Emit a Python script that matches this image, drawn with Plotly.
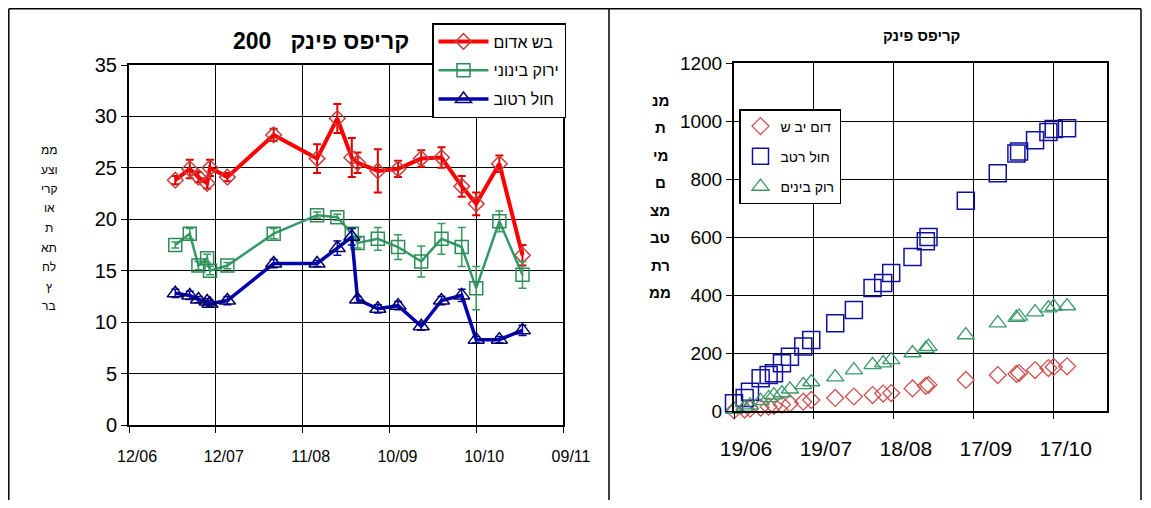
import plotly.graph_objects as go

# ---------------- data: left chart (average pressure-cell readings, bar) ----------------
dates_left = ["2005-06-28", "2005-07-03", "2005-07-06", "2005-07-09", "2005-07-10", "2005-07-16",
              "2005-08-01", "2005-08-16", "2005-08-23", "2005-08-28", "2005-08-30", "2005-09-06",
              "2005-09-13", "2005-09-21", "2005-09-28", "2005-10-05", "2005-10-10", "2005-10-18",
              "2005-10-26"]
red_left = [23.8, 24.9, 24.1, 23.5, 25.0, 24.1, 28.2, 25.9, 29.8, 26.0, 25.5, 24.7, 24.9, 25.9, 26.0, 23.2, 21.5, 25.4, 16.5]
red_err = [0.4, 0.9, 0.5, 0.5, 0.8, 0.4, 0.6, 1.4, 1.4, 1.9, 1.0, 2.1, 0.8, 0.8, 1.0, 1.0, 1.1, 0.8, 1.0]
green_left = [17.5, 18.6, 15.5, 16.2, 15.0, 15.5, 18.6, 20.4, 20.2, 18.6, 17.7, 18.1, 17.3, 15.9, 18.1, 17.3, 13.3, 19.8, 14.6]
green_err = [0.3, 0.5, 0.4, 0.4, 0.4, 0.3, 0.5, 0.3, 0.3, 0.5, 0.5, 1.1, 1.2, 1.5, 1.5, 1.9, 2.1, 1.0, 1.3]
blue_left = [12.8, 12.6, 12.2, 12.0, 11.8, 12.1, 15.7, 15.7, 17.2, 18.3, 12.2, 11.3, 11.6, 9.6, 12.1, 12.6, 8.3, 8.3, 9.2]
blue_err = [0.4, 0.4, 0.3, 0.3, 0.3, 0.4, 0.4, 0.3, 0.7, 0.8, 0.3, 0.4, 0.4, 0.4, 0.4, 0.6, 0.3, 0.3, 0.5]
names_left = ["בש אדום", "ירוק בינוני", "חול רטוב"]
ticks_left = ["2005-06-12", "2005-07-12", "2005-08-11", "2005-09-10", "2005-10-10", "2005-11-09"]

# ---------------- data: right chart (cumulative water, mm) ----------------
dates_right = ["2005-06-14", "2005-06-19", "2005-06-23", "2005-06-25", "2005-06-29", "2005-07-02",
               "2005-07-04", "2005-07-07", "2005-07-10", "2005-07-15", "2005-07-18", "2005-07-27",
               "2005-08-03", "2005-08-10", "2005-08-14", "2005-08-17", "2005-08-25", "2005-08-30",
               "2005-08-31", "2005-09-14", "2005-09-26", "2005-10-03", "2005-10-04", "2005-10-10",
               "2005-10-15", "2005-10-17", "2005-10-22"]
red_right = [0, 2, 5, 8, 12, 15, 18, 22, 26, 32, 38, 45, 50, 55, 60, 62, 78, 87, 90, 107, 124, 128, 131, 141, 148, 152, 154]
blue_right = [0, 27, 45, 66, 113, 124, 130, 165, 187, 222, 245, 303, 348, 424, 441, 476, 531, 585, 600, 725, 820, 888, 895, 934, 962, 972, 975]
green_right = [0, 5, 12, 20, 35, 45, 55, 62, 75, 90, 100, 117, 141, 159, 165, 176, 200, 215, 222, 262, 303, 322, 326, 341, 355, 360, 362]
names_right = ["דום יב ש", "חול רטב", "רוק בינים"]
ticks_right = ["2005-06-19", "2005-07-19", "2005-08-18", "2005-09-17", "2005-10-17"]

title_left = "200\u00a0\u00a0\u00a0קריפס פינק"
title_right = "קריפס פינק"
ytitle_left = ["ממ", "וצע", "קרי", "או", "ת", "תא", "לח", "ץ", "בר"]
ytitle_right = ["מנ", "ת", "מי", "ם", "מצ", "טב", "רת", "ממ"]

# the page body has an 8px margin; keep the figure inside the 1151x508 window
OFF = 8
W, H = 1151 - 2 * OFF, 508 - 2 * OFF
def px(x):
    return (x - OFF) / W
def py(y):
    return 1 - (y - OFF) / H

FONT = "Liberation Sans, Arial, sans-serif"
RED, GREEN, BLUE = "#ff0000", "#339966", "#0000b0"

fig = go.Figure()

# left chart traces
fig.add_trace(go.Scatter(x=dates_left, y=red_left, name=names_left[0], mode="lines+markers",
                         line=dict(color=RED, width=4),
                         marker=dict(symbol="diamond-open", size=12, color="#c84040", line=dict(width=1.5)),
                         error_y=dict(type="data", array=red_err, color="#e00000", thickness=2, width=4),
                         legend="legend", legendgroup="a", xaxis="x", yaxis="y"))
fig.add_trace(go.Scatter(x=dates_left, y=green_left, name=names_left[1], mode="lines+markers",
                         line=dict(color=GREEN, width=2.5),
                         marker=dict(symbol="square-open", size=13, color="#2e8b57", line=dict(width=1.5)),
                         error_y=dict(type="data", array=green_err, color="#3a9a5a", thickness=1.5, width=4),
                         legend="legend", legendgroup="b", xaxis="x", yaxis="y"))
fig.add_trace(go.Scatter(x=dates_left, y=blue_left, name=names_left[2], mode="lines+markers",
                         line=dict(color=BLUE, width=3.5),
                         marker=dict(symbol="triangle-up-open", size=14, color="#000060", line=dict(width=1.5)),
                         error_y=dict(type="data", array=blue_err, color=BLUE, thickness=1.5, width=4),
                         legend="legend", legendgroup="c", xaxis="x", yaxis="y"))

# right chart traces
fig.add_trace(go.Scatter(x=dates_right, y=red_right, name=names_right[0], mode="markers",
                         marker=dict(symbol="diamond-open", size=13, color="#d05050", line=dict(width=1.3)),
                         cliponaxis=False, legend="legend2", legendgroup="d", xaxis="x2", yaxis="y2"))
fig.add_trace(go.Scatter(x=dates_right, y=blue_right, name=names_right[1], mode="markers",
                         marker=dict(symbol="square-open", size=17, color="#1010a0", line=dict(width=1.5)),
                         cliponaxis=False, legend="legend2", legendgroup="e", xaxis="x2", yaxis="y2"))
fig.add_trace(go.Scatter(x=dates_right, y=green_right, name=names_right[2], mode="markers",
                         marker=dict(symbol="triangle-up-open", size=15, color="#3a9a6a", line=dict(width=1.3)),
                         cliponaxis=False, legend="legend2", legendgroup="f", xaxis="x2", yaxis="y2"))

axis_common = dict(showgrid=True, gridcolor="black", gridwidth=1, showline=True, linecolor="black",
                   mirror=True, ticks="outside", tickcolor="black", ticklen=6, zeroline=False,
                   automargin=False)

fig.update_layout(
    template="none",
    width=W, height=H, autosize=False, margin=dict(l=0, r=0, t=0, b=0, pad=0),
    paper_bgcolor="white", plot_bgcolor="white",
    font=dict(family=FONT, color="black"),
    xaxis=dict(domain=[px(129), px(563)], type="date",
               range=["2005-06-12", "2005-11-09"], tickvals=ticks_left, tickformat="%d/%m",
               tickfont=dict(size=16), ticklabelshift=8, ticklabelstandoff=10, linewidth=2,
               anchor="y", **axis_common),
    yaxis=dict(domain=[py(425), py(65)], range=[0, 35], dtick=5, tickfont=dict(size=20),
               linewidth=2, anchor="x", **axis_common),
    xaxis2=dict(domain=[px(734), px(1107)], type="date",
                range=["2005-06-19", "2005-11-06"], tickvals=ticks_right, tickformat="%d/%m",
                tickfont=dict(size=21), ticklabelshift=12, ticklabelstandoff=12, linewidth=2,
                anchor="y2", **axis_common),
    yaxis2=dict(domain=[py(411), py(63)], range=[0, 1200], dtick=200, tickfont=dict(size=19),
                linewidth=2, anchor="x2", **axis_common),
    legend=dict(x=px(432), y=py(23), xanchor="left", yanchor="top", bgcolor="white",
                bordercolor="black", borderwidth=1.5, font=dict(size=16),
                tracegroupgap=5, traceorder="grouped", itemwidth=50),
    legend2=dict(x=px(739), y=py(109), xanchor="left", yanchor="top", bgcolor="white",
                 bordercolor="black", borderwidth=1.5, font=dict(size=14),
                 tracegroupgap=9, traceorder="grouped", itemwidth=30),
    showlegend=True,
)

annotations = [
    dict(x=px(321), y=py(41), xref="paper", yref="paper", text="<b>" + title_left + "</b>",
         showarrow=False, font=dict(size=23), xanchor="center", yanchor="middle"),
    dict(x=px(921), y=py(36), xref="paper", yref="paper", text="<b>" + title_right + "</b>",
         showarrow=False, font=dict(size=15), xanchor="center", yanchor="middle"),
]
for i, t in enumerate(ytitle_left):
    annotations.append(dict(x=px(49), y=py(150 + i * 19.5), xref="paper", yref="paper", text=t,
                            showarrow=False, font=dict(size=12), xanchor="center", yanchor="middle"))
for i, t in enumerate(ytitle_right):
    annotations.append(dict(x=px(660), y=py(100 + i * 27.5), xref="paper", yref="paper",
                            text="<b>" + t + "</b>", showarrow=False, font=dict(size=15),
                            xanchor="center", yanchor="middle"))
fig.update_layout(annotations=annotations)

frame = dict(type="line", xref="paper", yref="paper", line=dict(color="black", width=1.5))
top = py(8.8)
left = px(8.8)
fig.update_layout(shapes=[
    dict(frame, x0=left, x1=px(1141), y0=top, y1=top),
    dict(frame, x0=left, x1=left, y0=top, y1=0),
    dict(frame, x0=px(609), x1=px(609), y0=top, y1=0),
    dict(frame, x0=px(1141), x1=px(1141), y0=top, y1=0),
])

fig.write_html("out.html")
